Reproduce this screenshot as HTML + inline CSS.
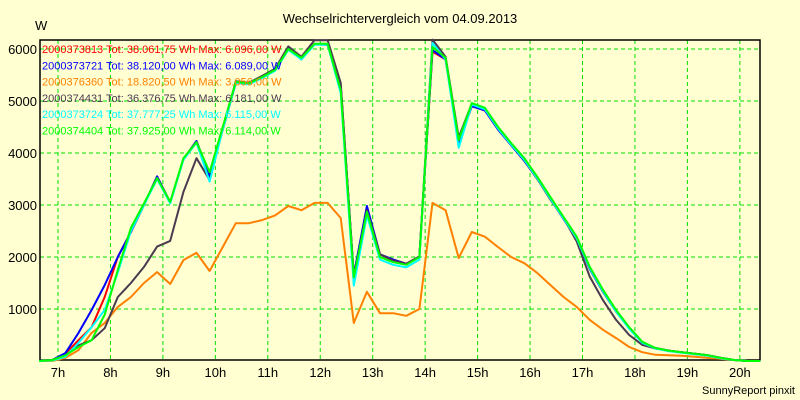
<!DOCTYPE html>
<html><head><meta charset="utf-8"><style>
body{margin:0;background:#ffffd2}
svg{display:block;font-family:"Liberation Sans",sans-serif}
</style></head><body>
<svg id="chart" width="800" height="400">
<rect x="0" y="0" width="800" height="400" fill="#ffffd2"/>
<text x="400" y="23" text-anchor="middle" font-size="13">Wechselrichtervergleich vom 04.09.2013</text>
<text x="35" y="30" font-size="13">W</text>
<text x="795" y="394" text-anchor="end" font-size="11">SunnyReport pinxit</text>
<g id="grid"></g><g id="axes"></g><g id="series"></g><g id="legend"></g>
</svg>
<script>
const times=[6.64,6.89,7.14,7.39,7.64,7.89,8.14,8.39,8.64,8.89,9.14,9.39,9.64,9.89,10.14,10.39,10.64,10.89,11.14,11.39,11.64,11.89,12.14,12.39,12.64,12.89,13.14,13.39,13.64,13.89,14.14,14.39,14.64,14.89,15.14,15.39,15.64,15.89,16.14,16.39,16.64,16.89,17.14,17.39,17.64,17.89,18.14,18.39,18.64,18.89,19.14,19.39,19.64,19.89,20.14,20.39];
const seriesRed=[0,20,140,400,650,1230,2000,2480,3000,3550,3050,3880,4230,3550,4450,5350,5330,5450,5600,6010,5800,6096,6080,5300,1650,2950,2050,1950,1870,2010,5950,5800,4200,4900,4820,4450,4150,3850,3500,3120,2730,2350,1770,1330,950,630,360,250,200,170,140,110,60,20,0,0];
const seriesBlue=[0,20,150,540,980,1460,2000,2480,3000,3550,3050,3880,4230,3550,4450,5350,5330,5450,5600,6010,5800,6089,6080,5300,1650,2980,2050,1950,1870,2010,5980,5800,4200,4900,4820,4450,4150,3850,3500,3120,2730,2350,1770,1330,950,630,360,250,200,170,140,110,60,20,0,0];
const seriesOrange=[0,0,60,210,540,730,1040,1230,1500,1710,1480,1940,2080,1730,2190,2650,2650,2710,2800,2980,2900,3040,3040,2750,730,1330,920,920,870,1000,3040,2900,1980,2480,2390,2190,2000,1880,1690,1460,1230,1040,790,600,440,270,170,120,110,100,80,60,40,20,0,0];
const seriesDark=[0,20,100,300,400,630,1230,1500,1810,2200,2310,3250,3900,3480,4450,5380,5350,5480,5620,6050,5850,6170,6170,5350,1600,2900,2050,1930,1870,2010,6181,5850,4300,4950,4850,4480,4170,3870,3500,3100,2750,2300,1620,1170,790,500,310,240,200,170,140,110,60,20,0,0];
const seriesCyan=[0,10,80,350,650,980,1700,2500,3000,3500,3030,3870,4200,3450,4450,5350,5320,5440,5580,5980,5800,6080,6080,5150,1450,2800,1950,1850,1800,1950,6115,5800,4100,4930,4840,4470,4160,3870,3510,3120,2740,2360,1780,1340,950,620,350,240,190,160,130,100,50,20,0,0];
const seriesGreen=[0,20,110,270,400,890,1750,2560,3030,3520,3060,3900,4210,3630,4500,5370,5340,5460,5600,6000,5830,6100,6100,5210,1610,2870,2000,1900,1850,2000,6040,5830,4250,4960,4870,4500,4190,3900,3540,3150,2770,2390,1810,1370,980,650,370,250,200,170,140,110,60,20,0,0];
const yTicks=[1000,2000,3000,4000,5000,6000];
const xTicks=[7,8,9,10,11,12,13,14,15,16,17,18,19,20];
const legendLabels=["2000373813 Tot: 38.061,75 Wh Max: 6.096,00 W","2000373721 Tot: 38.120,00 Wh Max: 6.089,00 W","2000376360 Tot: 18.820,50 Wh Max: 3.056,00 W","2000374431 Tot: 36.376,75 Wh Max: 6.181,00 W","2000373724 Tot: 37.777,25 Wh Max: 6.115,00 W","2000374404 Tot: 37.925,00 Wh Max: 6.114,00 W"];
const seriesNames=["red","blue","orange","dark","cyan","green"];
const colors=["#ff0000","#0000ff","#ff8000","#4b3a4f","#00ffff","#00ff00"];
const allSeries=[seriesRed,seriesBlue,seriesOrange,seriesDark,seriesCyan,seriesGreen];
const L=40,R=760,T=40,B=360;
const xs=h=>58+(h-7)*52.45;
const ys=v=>361-v*0.052;
const NS="http://www.w3.org/2000/svg";
function mk(tag,attrs,parent){const e=document.createElementNS(NS,tag);for(const k in attrs)e.setAttribute(k,attrs[k]);parent.appendChild(e);return e;}
const grid=document.getElementById('grid'),axes=document.getElementById('axes'),ser=document.getElementById('series'),leg=document.getElementById('legend');
yTicks.forEach(v=>{
 const l=mk('line',{x1:L,x2:R,y1:ys(v),y2:ys(v),stroke:'#00e000','stroke-dasharray':'4,3'},grid);
 
 
 const t=mk('text',{x:37,y:ys(v)+5,'text-anchor':'end','font-size':'13'},axes);
 t.textContent=v;
 
 
});
xTicks.forEach(h=>{
 const l=mk('line',{x1:xs(h),x2:xs(h),y1:T,y2:B,stroke:'#00e000','stroke-dasharray':'4,3'},grid);
 
 
 const t=mk('text',{x:xs(h),y:377,'text-anchor':'middle','font-size':'13'},axes);
 t.textContent=h+'h';
 
 
});
const fr=mk('rect',{x:L,y:T,width:R-L,height:B-T,fill:'none',stroke:'#000','stroke-width':1.5},axes);


allSeries.forEach((s,i)=>{
 const pts=s.map((v,k)=>xs(times[k]).toFixed(1)+','+ys(v).toFixed(1)).join(' ');
 const p=mk('polyline',{points:pts,fill:'none',stroke:colors[i],'stroke-width':2,'stroke-linejoin':'round'},ser);
 
 
});
legendLabels.forEach((lab,i)=>{
 const t=mk('text',{x:42,y:53+i*16.3,'font-size':'11',fill:colors[i]},leg);
 t.textContent=lab;
 
 
});
</script>
</body></html>
